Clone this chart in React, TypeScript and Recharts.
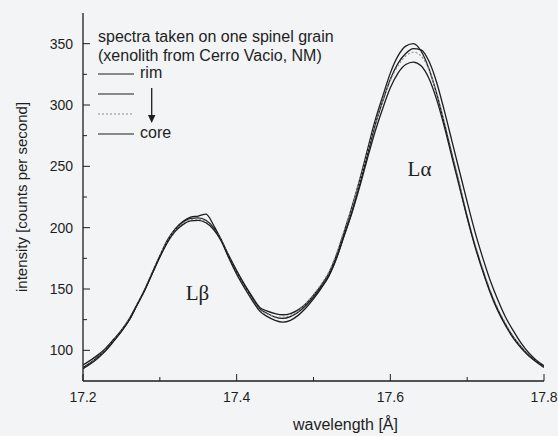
import { Legend, Line, LineChart, ReferenceDot, XAxis, YAxis } from "recharts";

const INK = "#1e1e1e";
const PAPER = "#f2f4f5";
const SANS = '"Liberation Sans", Arial, sans-serif';
const SERIF = '"Liberation Serif", "Times New Roman", serif';

// wavelength in Å
const wavelength = [
  17.2, 17.21, 17.22, 17.23, 17.24, 17.25, 17.26, 17.27, 17.28, 17.29,
  17.3, 17.31, 17.32, 17.33, 17.34, 17.35, 17.36, 17.37, 17.38, 17.39,
  17.4, 17.41, 17.42, 17.43, 17.44, 17.45, 17.46, 17.47, 17.48, 17.49,
  17.5, 17.51, 17.52, 17.53, 17.54, 17.55, 17.56, 17.57, 17.58, 17.59,
  17.6, 17.61, 17.62, 17.63, 17.64, 17.65, 17.66, 17.67, 17.68, 17.69,
  17.7, 17.71, 17.72, 17.73, 17.74, 17.75, 17.76, 17.77, 17.78, 17.79,
  17.8,
];

// counts per second, rim -> core
const rim = [
  88, 92, 96.5, 102, 109, 116.5, 125.5, 137, 149, 163,
  177, 190, 199, 205, 208.5, 209.5, 211, 202, 190, 177,
  165, 154, 144, 135, 132, 130, 129, 130, 133, 138,
  145, 153, 163, 178, 197, 217, 239, 263, 287, 307,
  326, 340, 348, 350, 344, 330, 310, 286, 260, 235,
  209, 186, 166, 148, 133, 121, 111, 103, 96, 91,
  87,
];
const second = [
  86, 90, 95, 100.5, 108, 115.5, 124.5, 136.5, 148.5, 162.5,
  176.5, 189, 198.5, 204.5, 207.5, 208, 206, 200, 190, 176,
  164, 153, 143, 134, 130, 127, 126, 127.5, 131, 136.5,
  143.5, 151.5, 161, 175.5, 194, 213, 235, 259, 283, 303,
  321, 334, 342, 346, 345, 336, 319, 296, 271, 246,
  221, 197, 176, 157, 141, 127, 116, 106, 98, 92,
  87.5,
];
const third = [
  85, 89.5, 94.5, 100.5, 108, 116, 125.5, 137.5, 149.5, 163.5,
  177, 189, 198, 203.5, 206.5, 207, 205, 199, 190, 175.5,
  163, 152, 142, 133, 129.5, 127.5, 127, 128.5, 132, 138,
  145.5, 154, 164, 179, 198, 217, 238, 261, 284, 303,
  320, 332, 340, 343, 340, 329, 310, 287, 261, 236,
  210, 187, 167, 149, 134, 122, 111, 103, 96, 91,
  86,
];
const core = [
  85, 89, 94, 100, 107.5, 115.5, 124.5, 136.5, 148.5, 162.5,
  176, 188, 197, 202.5, 205.5, 206, 204, 198.5, 189, 175,
  162, 151, 141, 132, 127.5, 124.5, 123, 124.5, 128.5, 134.5,
  142, 150.5, 160.5, 175, 193.5, 212, 233, 256, 278, 297,
  314, 326, 333, 335, 332, 322, 305, 283, 258, 233,
  208, 185, 165, 147, 132, 120, 110, 102, 95.5, 90.5,
  86,
];

const xTicks = [17.2, 17.3, 17.4, 17.5, 17.6, 17.7, 17.8];
const yTicks = [100, 125, 150, 175, 200, 225, 250, 275, 300, 325, 350];

const data = wavelength.map((w, i) => ({
  w,
  rim: rim[i],
  second: second[i],
  third: third[i],
  core: core[i],
}));

const isMajorX = (v: number) => Math.round(v * 10) % 2 === 0;
const isMajorY = (v: number) => v % 50 === 0;

function BottomTick({ x, y, payload }: any) {
  const major = isMajorX(payload.value);
  return (
    <g>
      <line x1={x} x2={x} y1={y} y2={y - (major ? 7 : 4)} stroke={INK} />
      {major && (
        <text x={x} y={y + 16} textAnchor="middle" dominantBaseline="central" fill={INK} fontSize={14} fontFamily={SANS}>
          {payload.value.toFixed(1)}
        </text>
      )}
    </g>
  );
}

function TopTick({ x, y, payload }: any) {
  const major = isMajorX(payload.value);
  return <line x1={x} x2={x} y1={y} y2={y + (major ? 6 : 4)} stroke={INK} />;
}

function LeftTick({ x, y, payload }: any) {
  const major = isMajorY(payload.value);
  return (
    <g>
      <line x1={x} x2={x + (major ? 7 : 4)} y1={y} y2={y} stroke={INK} />
      {major && (
        <text x={x - 10} y={y} textAnchor="end" dominantBaseline="central" fill={INK} fontSize={14} fontFamily={SANS}>
          {payload.value}
        </text>
      )}
    </g>
  );
}

function RightTick({ x, y }: any) {
  return <line x1={x} x2={x - 5} y1={y} y2={y} stroke={INK} />;
}

function YTitle({ viewBox }: any) {
  const cx = viewBox.x + 21;
  const cy = viewBox.y + viewBox.height / 2;
  return (
    <text x={cx} y={cy} transform={`rotate(-90 ${cx} ${cy})`} textAnchor="middle" dominantBaseline="central" fill={INK} fontSize={15} fontFamily={SANS}>
      intensity [counts per second]
    </text>
  );
}

const sampleStyle = [
  { label: "rim", stroke: INK, dash: undefined },
  { label: "", stroke: INK, dash: undefined },
  { label: "", stroke: "#8d8d8d", dash: "2 2" },
  { label: "core", stroke: INK, dash: undefined },
];

function SpectraLegend() {
  const rows = [73, 93, 113, 133];
  return (
    <svg width={300} height={150} style={{ overflow: "visible" }}>
      <text x={98} y={36} dominantBaseline="central" fill={INK} fontSize={16} fontFamily={SANS}>
        spectra taken on one spinel grain
      </text>
      <text x={98} y={55} dominantBaseline="central" fill={INK} fontSize={16} fontFamily={SANS}>
        (xenolith from Cerro Vacio, NM)
      </text>
      {sampleStyle.map((s, i) => (
        <g key={i}>
          <line x1={98} x2={134} y1={rows[i] + 1} y2={rows[i] + 1} stroke={s.stroke} strokeWidth={1.2} strokeDasharray={s.dash} />
          {s.label && (
            <text x={140} y={rows[i] - 1} dominantBaseline="central" fill={INK} fontSize={16} fontFamily={SANS}>
              {s.label}
            </text>
          )}
        </g>
      ))}
      <line x1={151.7} x2={151.7} y1={88} y2={117} stroke={INK} strokeWidth={1.3} />
      <polygon points="148,115 155.4,115 151.7,123" fill={INK} />
    </svg>
  );
}

export default function App() {
  return (
    <div style={{ position: "absolute", left: 0, top: 0, width: 558, height: 436, background: PAPER }}>
      <LineChart width={558} height={436} data={data} margin={{ top: 13, right: 14, bottom: 0, left: 0 }}>
        <XAxis
          dataKey="w"
          type="number"
          domain={[17.2, 17.8]}
          allowDataOverflow
          ticks={xTicks}
          interval={0}
          height={55}
          tickSize={0}
          tickMargin={0}
          tickLine={false}
          tick={BottomTick}
          axisLine={{ stroke: INK, strokeWidth: 1.3 }}
          label={{ value: "wavelength [Å]", position: "insideBottom", offset: 6, dx: 32, fill: INK, fontSize: 16, fontFamily: SANS }}
        />
        <XAxis
          xAxisId="top"
          orientation="top"
          dataKey="w"
          type="number"
          domain={[17.2, 17.8]}
          allowDataOverflow
          ticks={xTicks}
          interval={0}
          height={0}
          tickSize={0}
          tickMargin={0}
          tickLine={false}
          tick={TopTick}
          axisLine={{ stroke: INK, strokeWidth: 1.3 }}
        />
        <YAxis
          type="number"
          domain={[75, 375]}
          allowDataOverflow
          ticks={yTicks}
          interval={0}
          width={83}
          tickSize={0}
          tickMargin={0}
          tickLine={false}
          tick={LeftTick}
          axisLine={{ stroke: INK, strokeWidth: 1.3 }}
          label={{ content: YTitle }}
        />
        <YAxis
          yAxisId="right"
          orientation="right"
          type="number"
          domain={[75, 375]}
          allowDataOverflow
          ticks={yTicks}
          interval={0}
          width={0}
          tickSize={0}
          tickMargin={0}
          tickLine={false}
          tick={RightTick}
          axisLine={{ stroke: INK, strokeWidth: 1.3 }}
        />
        <Legend layout="horizontal" verticalAlign="middle" align="center" content={SpectraLegend} wrapperStyle={{ left: 0, top: 0, width: 300, height: 150 }} />
        <Line dataKey="rim" type="monotone" stroke={INK} strokeWidth={1.3} dot={false} isAnimationActive={false} />
        <Line dataKey="second" type="monotone" stroke={INK} strokeWidth={1.3} dot={false} isAnimationActive={false} />
        <Line dataKey="third" type="monotone" stroke="#8d8d8d" strokeWidth={1.2} strokeDasharray="2 2" dot={false} isAnimationActive={false} />
        <Line dataKey="core" type="monotone" stroke={INK} strokeWidth={1.3} dot={false} isAnimationActive={false} />
        <ReferenceDot x={17.349} y={147} r={0} label={{ value: "Lβ", position: "center", fill: INK, fontSize: 21, fontFamily: SERIF }} />
        <ReferenceDot x={17.638} y={248} r={0} label={{ value: "Lα", position: "center", fill: INK, fontSize: 21, fontFamily: SERIF }} />
      </LineChart>
    </div>
  );
}
